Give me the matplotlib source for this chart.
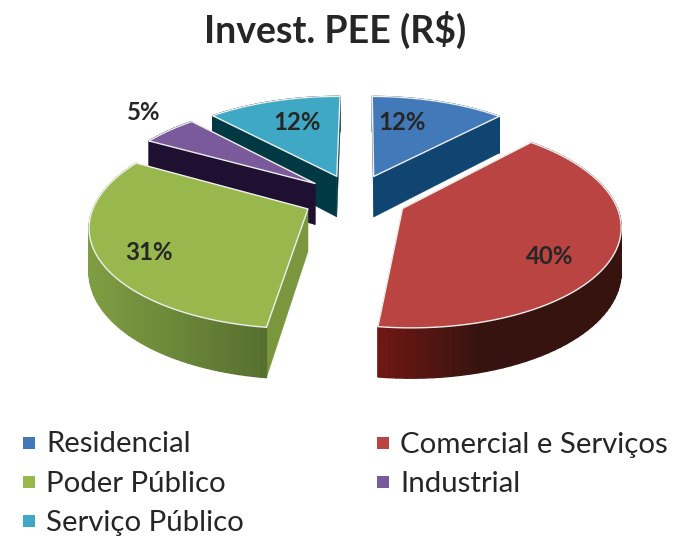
import numpy as np
import matplotlib
matplotlib.use("Agg")
import matplotlib.pyplot as plt
from matplotlib.collections import PolyCollection
from matplotlib.colors import to_rgb
from matplotlib.patches import Polygon, Rectangle

categories = ["Residencial", "Comercial e Serviços", "Poder Público", "Industrial", "Serviço Público"]
values = [12, 40, 31, 5, 12]
title = "Invest. PEE (R$)"

top_colors = ["#4279B8", "#B94441", "#98B84E", "#7B5A9C", "#3FA9C5"]
face_colors = ["#0F4570", "#36130F", "#7A973D", "#1F0F30", "#003843"]
wall_left = ["#0F4570", "#701815", "#7F9E42", "#1F0F30", "#003843"]
wall_right = ["#0F4570", "#36130F", "#566F30", "#1F0F30", "#003843"]
# pixel spots of the percent labels
label_spots = [(402, 122), (550, 256), (149, 252), (144, 113), (297, 122)]
legend_spots = [(24, 443), (378, 443), (24, 482), (378, 482), (24, 521)]
draw_order = [4, 0, 3, 2, 1]

VX, VY = 355, 198      # view centre
RX, RY = 211.5, 98     # pie radii on screen
PERSP = 0.15
DEPTH = 42
EXPLODE = 0.245
START = 0.3
FONT = "Lato"


def project(wx, wy, z=0.0):
    s = 1 / (1 + PERSP * wy)
    return np.column_stack([VX + RX * wx * s, VY - RY * wy * s + DEPTH * z * s])


def mix(c1, c2, t):
    a, b = np.array(to_rgb(c1)), np.array(to_rgb(c2))
    return tuple(a + (b - a) * t)


def draw_wedge(ax, i, t0, t1, z):
    mid = np.radians((t0 + t1) / 2)
    ox, oy = EXPLODE * np.sin(mid), EXPLODE * np.cos(mid)
    th = np.radians(np.linspace(t0, t1, 70))
    wx, wy = ox + np.sin(th), oy + np.cos(th)

    # two cut faces
    for end in (0, -1):
        a, b = project(np.array([ox, wx[end]]), np.array([oy, wy[end]]))
        c, d = project(np.array([wx[end], ox]), np.array([wy[end], oy]), 1.0)
        ax.add_patch(Polygon([a, b, c, d], fc=face_colors[i], ec=face_colors[i], lw=0.3, zorder=z))

    # outer wall, shaded from left to right across the visible part
    up = project(wx, wy)
    down = project(wx, wy, 1.0)
    quads, cols = [], []
    left, right = up[:, 0].min(), up[:, 0].max()
    for k in range(len(th) - 1):
        quads.append([up[k], up[k + 1], down[k + 1], down[k]])
        t = ((up[k, 0] + up[k + 1, 0]) / 2 - left) / (right - left)
        if i == 1:
            t = min(t * 2.4, 1.0)
        cols.append(mix(wall_left[i], wall_right[i], t))
    ax.add_collection(PolyCollection(quads, facecolors=cols, edgecolors=cols, linewidths=1.0, zorder=z + 0.1))

    # top
    apex = project(np.array([ox]), np.array([oy]))
    top = np.vstack([apex, up])
    ax.add_patch(Polygon(top, closed=True, fc=top_colors[i], ec="#eeeeee", lw=1.0, zorder=z + 0.2, joinstyle="round"))


fig = plt.figure(figsize=(6.74, 5.36), dpi=100)
ax = fig.add_axes([0, 0, 1, 1])
ax.set_xlim(0, 674)
ax.set_ylim(536, 0)
ax.axis("off")

ends = START + np.cumsum(values) / np.sum(values) * 360
starts = np.r_[START, ends[:-1]]
for n, i in enumerate(draw_order):
    draw_wedge(ax, i, starts[i], ends[i], 2 + n)

for v, (x, y) in zip(values, label_spots):
    ax.text(x, y, f"{v}%", ha="center", va="center", fontsize=17.3, fontweight="bold",
            family=FONT, color="#262626", zorder=20)

ax.text(335, 30, title, ha="center", va="center", fontsize=27, fontweight="bold",
        family=FONT, color="#262626", parse_math=False)

for name, col, (x, y) in zip(categories, top_colors, legend_spots):
    ax.add_patch(Rectangle((x - 1, y - 6), 12, 12, fc=col, ec="none"))
    ax.text(x + 22, y + 1.5, name, ha="left", va="center", fontsize=21.2, family=FONT, color="#262626")

fig.savefig("out.png", dpi=100)
plt.close(fig)
